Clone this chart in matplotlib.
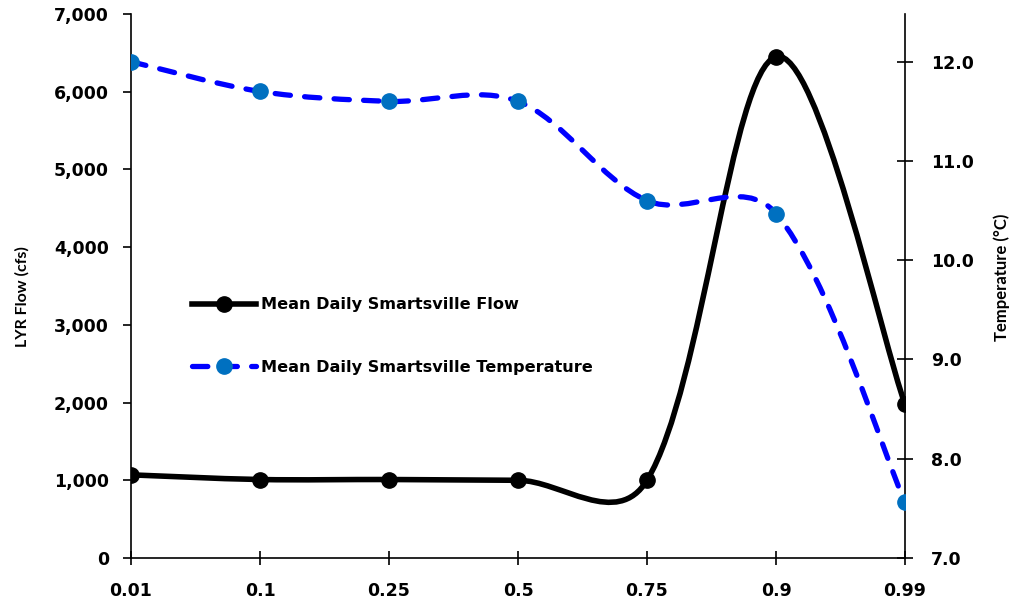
import numpy as np
import matplotlib
matplotlib.use("Agg")
import matplotlib.pyplot as plt
from matplotlib.path import Path
from matplotlib.patches import PathPatch
from matplotlib.lines import Line2D

# exceedance categories and series
categories = ["0.01", "0.1", "0.25", "0.5", "0.75", "0.9", "0.99"]
flow_cfs = [1070, 1010, 1010, 1000, 1000, 6450, 1980]
temp_c = [12.0, 11.7, 11.6, 11.6, 10.6, 10.47, 7.56]

flow_label = "Mean Daily Smartsville Flow"
temp_label = "Mean Daily Smartsville Temperature"

plt.rcParams['font.family'] = ['DejaVu Sans']
plt.rcParams['font.weight'] = 'bold'


def smooth_path(a, x, y):
	# smoothed line like excel: bezier segments, tangents scaled by
	# centripetal-ish chord lengths measured in pixels
	pts = a.transData.transform(np.column_stack([x, y]).astype(float))
	n = len(pts)
	verts = [pts[0]]
	codes = [Path.MOVETO]
	for i in range(n - 1):
		p0 = pts[max(i - 1, 0)]
		p1 = pts[i]
		p2 = pts[i + 1]
		p3 = pts[min(i + 2, n - 1)]
		d01 = np.sqrt(np.hypot(*(p1 - p0)))
		d12 = np.sqrt(np.hypot(*(p2 - p1)))
		d23 = np.sqrt(np.hypot(*(p3 - p2)))
		s1 = 2 * d12 / (d01 + d12) if d01 > 0 else 1.0
		s2 = 2 * d12 / (d12 + d23) if d23 > 0 else 1.0
		c1 = p1 + (p2 - p0) * s1 / 6
		c2 = p2 - (p3 - p1) * s2 / 6
		verts += [c1, c2, p2]
		codes += [Path.CURVE4] * 3
	verts = a.transData.inverted().transform(np.array(verts))
	return Path(verts, codes)


fig = plt.figure(figsize=(10.18, 6.01), dpi=100)
ax = fig.add_axes([131 / 1018, 1 - 558 / 601, (905 - 131) / 1018, (558 - 14) / 601])
ax2 = ax.twinx()

xs = np.arange(len(categories))

ax.set_xlim(0, len(categories) - 1)
ax.set_ylim(0, 7000)
ax2.set_ylim(7.0, 12.48)

# flow (left axis)
ax.add_patch(PathPatch(smooth_path(ax, xs, flow_cfs), facecolor='none', edgecolor='black',
	lw=4, capstyle='round', joinstyle='round', zorder=3))
ax.plot(xs, flow_cfs, linestyle='none', marker='o', ms=11, color='black', zorder=4)

# temperature (right axis)
ax2.add_patch(PathPatch(smooth_path(ax2, xs, temp_c), facecolor='none', edgecolor='#0000FF',
	lw=3.8, linestyle=(0, (2.9, 2.7)), capstyle='round', zorder=3))
ax2.plot(xs, temp_c, linestyle='none', marker='o', ms=11, color='#0070C0', zorder=4)

ax.set_yticks(np.arange(0, 7001, 1000))
ax.set_yticklabels(["{:,}".format(v) for v in range(0, 7001, 1000)])
ax.set_xticks(xs)
ax.set_xticklabels(categories)

ax2.set_yticks(np.arange(7, 13, 1.0))
ax2.set_yticklabels(["{:.1f}".format(v) for v in np.arange(7, 13, 1.0)])

for a in (ax, ax2):
	a.spines['top'].set_visible(False)
	for s in a.spines.values():
		s.set_linewidth(1.2)

ax.spines['right'].set_visible(False)
ax2.spines['left'].set_visible(False)
ax2.spines['bottom'].set_visible(False)

ax.tick_params(axis='x', direction='inout', length=10, width=1.2, pad=12, labelsize=12.5)
ax.tick_params(axis='y', direction='out', length=6, width=1.2, pad=10, labelsize=12.5)
ax2.tick_params(axis='y', direction='inout', length=11, width=1.2, pad=13, labelsize=12.5)

ax.set_ylabel("LYR Flow (cfs)", fontsize=11.5, fontweight='bold', family='Lato')
ax2.set_ylabel("Temperature (\u00b0C)", fontsize=12, fontweight='bold', family='Lato')
ax.yaxis.set_label_coords(-0.1305, 0.48)
ax2.yaxis.set_label_coords(1.1137, 0.5165)

handles = [
	Line2D([], [], color='black', lw=4, marker='o', ms=11, markerfacecolor='black'),
	Line2D([], [], color='#0000FF', lw=3.8, linestyle=(0, (2.9, 2.7)), dash_capstyle='round',
		marker='o', ms=11, markerfacecolor='#0070C0', markeredgecolor='#0070C0'),
]
leg = ax.legend(handles, [flow_label, temp_label], loc='upper left',
	bbox_to_anchor=(177 / 1018, 1 - 283 / 601), bbox_transform=fig.transFigure,
	frameon=False, fontsize=11.6, handlelength=4.0, handletextpad=0.3,
	labelspacing=2.95, numpoints=1)
for t in leg.get_texts():
	t.set_fontweight('bold')

fig.savefig("out.png", dpi=100)
